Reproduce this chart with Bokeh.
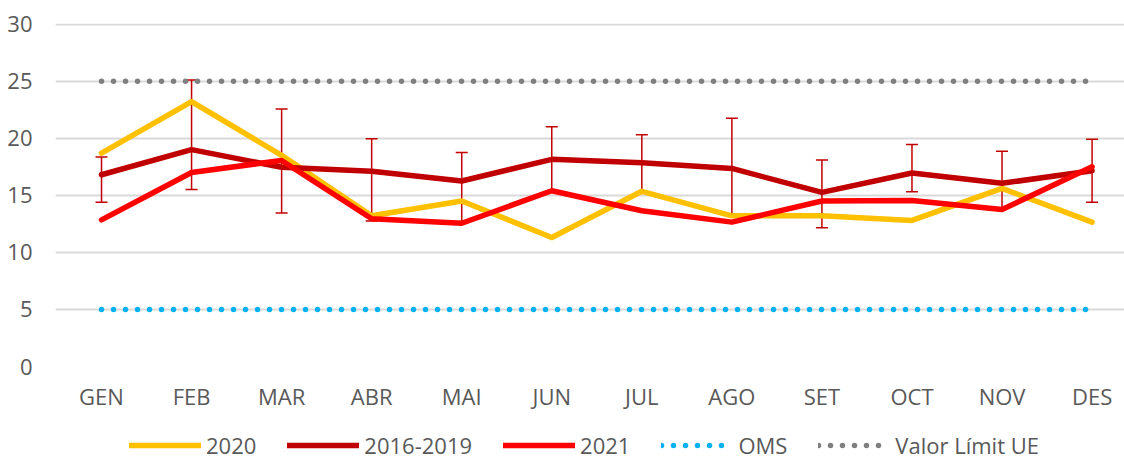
from bokeh.plotting import figure
from bokeh.models import (ColumnDataSource, Range1d, FixedTicker, Whisker, TeeHead,
                          Legend, LegendItem)
from bokeh.layouts import column
from bokeh.embed import file_html
from bokeh.resources import INLINE

months = ["GEN", "FEB", "MAR", "ABR", "MAI", "JUN", "JUL", "AGO", "SET", "OCT", "NOV", "DES"]
s2020 = [18.7, 23.2, 18.5, 13.2, 14.5, 11.3, 15.35, 13.2, 13.2, 12.8, 15.6, 12.65]
s2016_2019 = [16.8, 19.0, 17.45, 17.1, 16.25, 18.15, 17.85, 17.35, 15.25, 16.95, 16.05, 17.15]
s2021 = [12.85, 17.0, 18.05, 12.95, 12.55, 15.4, 13.65, 12.65, 14.5, 14.55, 13.75, 17.5]
err_upper = [18.35, 25.1, 22.55, 19.95, 18.75, 21.0, 20.3, 21.75, 18.1, 19.45, 18.85, 19.9]
err_lower = [14.4, 15.5, 13.45, 12.75, 12.7, 15.3, 15.3, 13.2, 12.15, 15.3, 13.9, 14.4]
oms = [5, 5, 5, 5, 5, 5, 5, 5, 5, 5, 5, 5]
valor_limit_ue = [25, 25, 25, 25, 25, 25, 25, 25, 25, 25, 25, 25]
y_ticks = [0, 5, 10, 15, 20, 25, 30]
series_labels = ["2020", "2016-2019", "2021", "OMS", "Valor Límit UE"]

xs = list(range(len(months)))
src = ColumnDataSource(dict(x=xs, s2020=s2020, s1619=s2016_2019, s2021=s2021,
                            upper=err_upper, lower=err_lower, oms=oms, ue=valor_limit_ue))

FONT = "Open Sans"
TXT = "#595959"
FS = "22px"
LW = 5.5
styles = [
    ("s2020", dict(line_color="#FFC000", line_width=LW, line_join="round", line_cap="round")),
    ("s1619", dict(line_color="#C00000", line_width=LW, line_join="round", line_cap="round")),
    ("s2021", dict(line_color="#FF0000", line_width=LW, line_join="round", line_cap="round")),
    ("oms", dict(line_color="#00B0F0", line_width=LW, line_dash="0 12", line_cap="round")),
    ("ue", dict(line_color="#808080", line_width=LW, line_dash="0 12", line_cap="round")),
]

p = figure(width=1124, height=420, output_backend="svg", toolbar_location=None,
           x_range=Range1d(-0.511, 11.36), y_range=Range1d(0, 30.05),
           min_border_left=55, min_border_right=0, min_border_top=23, min_border_bottom=54)
p.outline_line_color = None
p.background_fill_color = "white"
p.border_fill_color = "white"

p.yaxis.ticker = FixedTicker(ticks=y_ticks)
p.xaxis.ticker = FixedTicker(ticks=xs)
p.xaxis.major_label_overrides = {i: m for i, m in enumerate(months)}
for ax in (p.xaxis, p.yaxis):
    ax.axis_line_color = None
    ax.major_tick_line_color = None
    ax.minor_tick_line_color = None
    ax.major_tick_out = 0
    ax.major_tick_in = 0
    ax.minor_tick_out = 0
    ax.minor_tick_in = 0
    ax.major_label_text_font = FONT
    ax.major_label_text_font_size = FS
    ax.major_label_text_color = TXT
p.yaxis.major_label_standoff = 23
p.xaxis.major_label_standoff = 14

p.xgrid.grid_line_color = None
p.ygrid.grid_line_color = "#D9D9D9"
p.ygrid.grid_line_width = 2

wk = Whisker(source=src, base="x", upper="upper", lower="lower", dimension="height",
             line_color="#C00000", line_width=1.5,
             upper_head=TeeHead(size=12, line_color="#C00000", line_width=1.5),
             lower_head=TeeHead(size=12, line_color="#C00000", line_width=1.5))
p.add_layout(wk)

for col, st in styles:
    p.line("x", col, source=src, **st)

# legend strip below the chart (same series; its own out-of-view copies)
lf = figure(width=1124, height=40, output_backend="svg", toolbar_location=None,
            x_range=Range1d(0, 1), y_range=Range1d(1000, 1001),
            x_axis_type=None, y_axis_type=None,
            min_border_left=0, min_border_right=0, min_border_top=0, min_border_bottom=0)
lf.outline_line_color = None
lf.grid.grid_line_color = None
lf.background_fill_color = "white"
lf.border_fill_color = "white"
items = []
for (col, st), lab in zip(styles, series_labels):
    r = lf.line("x", col, source=src, **st)
    items.append(LegendItem(label=lab, renderers=[r]))

legend = Legend(items=items, orientation="horizontal", location=(74, 0),
                padding=0, margin=0, spacing=31, glyph_width=72, glyph_height=20,
                label_height=20, label_standoff=5,
                label_text_font=FONT, label_text_font_size=FS, label_text_color=TXT,
                border_line_color=None, background_fill_alpha=0)
lf.add_layout(legend, "center")

layout = column(p, lf, spacing=0)
open("out.html", "w").write(file_html(layout, INLINE))
